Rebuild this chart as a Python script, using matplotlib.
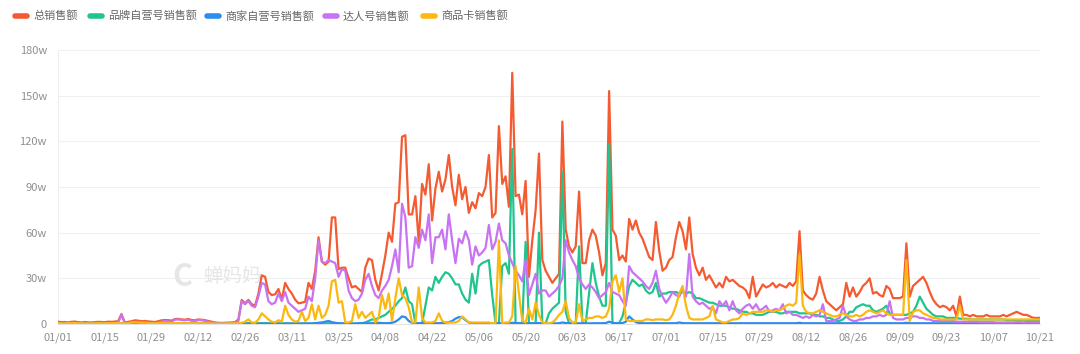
import matplotlib
matplotlib.use("Agg")
import matplotlib.pyplot as plt
from matplotlib.lines import Line2D

plt.rcParams['font.family'] = ['Noto Sans CJK SC', 'DejaVu Sans']

# ---------------- data (unit: 万 / w), daily 2024-01-01 .. 2024-10-21 ----------------
x_labels = ["01/01", "01/15", "01/29", "02/12", "02/26", "03/11", "03/25", "04/08",
            "04/22", "05/06", "05/20", "06/03", "06/17", "07/01", "07/15", "07/29",
            "08/12", "08/26", "09/09", "09/23", "10/07", "10/21"]
y_ticks = [0, 30, 60, 90, 120, 150, 180]
y_labels = ["0", "30w", "60w", "90w", "120w", "150w", "180w"]

series_names = ["总销售额", "品牌自营号销售额", "商家自营号销售额", "达人号销售额", "商品卡销售额"]

total = [
    1.5, 1.2, 1.3, 1.0, 1.4, 1.6, 1.2, 1.0, 1.3, 1.1, 1.0, 1.2, 1.4, 1.3,
    1.2, 1.5, 1.4, 1.6, 1.8, 6.5, 1.0, 1.4, 1.8, 2.4, 2.2, 1.8, 2.0, 1.7,
    1.5, 1.3, 1.8, 2.4, 2.6, 2.5, 2.2, 3.2, 3.4, 3.0, 2.8, 3.3, 2.6, 2.4,
    3.0, 2.8, 2.5, 2.0, 1.5, 1.0, 0.8, 0.7, 0.8, 0.9, 1.0, 1.2, 3.0, 15.8,
    13.6, 15.8, 13.0, 12.0, 20.0, 32.0, 31.0, 21.0, 19.0, 19.5, 23.0, 16.0, 27.0, 23.0,
    20.0, 16.0, 13.6, 14.0, 14.7, 27.0, 23.0, 35.0, 57.0, 41.0, 39.0, 41.0, 70.0, 70.0,
    36, 37, 37, 30, 24, 25, 23, 21, 37, 43, 42, 29, 22, 33,
    45, 60, 54, 79, 80, 123, 124, 72, 72, 84, 54, 92, 85, 105,
    68, 89, 100, 87, 95, 111, 90, 78, 98, 82, 90, 73, 80, 76,
    86, 84, 90, 111, 70, 73, 130, 92, 97, 77, 165, 84, 85, 72,
    94, 31, 55, 75, 112, 42, 35, 31, 27, 30, 33, 133, 62, 51,
    47, 51, 87, 40, 40, 55, 62, 58, 47, 32, 40, 153, 62, 58,
    42, 45, 41, 69, 62, 68, 60, 56, 50, 44, 42, 67, 48, 35,
    37, 42, 44, 57, 67, 61, 49, 70, 46, 37, 32, 37, 29, 32,
    28, 24, 27, 24, 31, 28, 29, 27, 25, 24, 22, 17, 31, 18,
    22, 26, 24, 25, 27, 24, 26, 25, 24, 27, 25, 28, 61, 22,
    19, 17, 16, 20, 31, 22, 15, 13, 11, 9, 11, 13, 27, 18,
    24, 18, 21, 25, 27, 30, 20, 21, 19, 18, 25, 23, 17, 17,
    17, 18, 53, 18, 25, 27, 29, 31, 27, 21, 16, 13, 11, 12,
    11, 9, 12, 5, 18, 6, 6, 5, 6, 5, 5, 5, 6, 5,
    5, 5, 5, 6, 5, 6, 7, 8, 7, 6, 6, 5, 4, 4,
    4,
]

brand = [
    0.2, 0.2, 0.3, 0.2, 0.2, 0.3, 0.2, 0.2, 0.2, 0.3, 0.2, 0.2, 0.2, 0.2,
    0.2, 0.2, 0.3, 0.2, 0.2, 0.2, 0.2, 0.3, 0.3, 0.4, 0.3, 0.3, 0.3, 0.2,
    0.2, 0.2, 0.3, 0.3, 0.3, 0.3, 0.2, 0.3, 0.3, 0.3, 0.3, 0.3, 0.2, 0.2,
    0.2, 0.2, 0.2, 0.2, 0.2, 0.2, 0.2, 0.2, 0.2, 0.2, 0.2, 0.2, 0.3, 0.4,
    0.4, 0.5, 0.4, 0.3, 0.4, 0.5, 0.5, 0.4, 0.3, 0.3, 0.4, 0.3, 0.4, 0.3,
    0.3, 0.3, 0.3, 0.3, 0.3, 0.4, 0.3, 0.4, 0.5, 0.4, 0.4, 0.5, 0.5, 0.4,
    0.3, 0.3, 0.3, 0.3, 0.3, 0.3, 0.5, 0.5, 1, 2, 3, 3, 4, 5,
    6, 8, 10, 12, 15, 17, 24, 15, 13, 0.5, 0.3, 0.5, 12, 24,
    22, 31, 27, 31, 34, 33, 30, 26, 26, 20, 16, 14, 33, 20,
    38, 40, 41, 42, 19, 0.5, 0.5, 38, 40, 33, 115, 0.5, 0.5, 0.5,
    54, 0.5, 0.5, 0.5, 60, 0.5, 0.5, 7, 10, 12, 14, 100, 8, 0.5,
    0.5, 0.5, 51, 0.5, 0.5, 20, 40, 27, 18, 12, 12, 118, 0.5, 0.5,
    0.5, 5, 14, 25, 29, 27, 25, 26, 22, 20, 21, 27, 18, 20,
    20, 21, 21, 21, 20, 21, 20, 21, 20, 17, 17, 16, 15, 14,
    14, 13, 12, 12, 12, 11, 10, 10, 9, 8, 8, 7, 7, 6,
    6, 6, 7, 8, 8, 8, 7, 7, 8, 8, 8, 8, 7, 7,
    7, 7, 6, 6, 5, 5, 4, 4, 3, 2, 2, 3, 5, 8,
    8, 11, 12, 13, 12, 12, 9, 8, 9, 10, 12, 7, 6, 6,
    6, 6, 6, 7, 8, 12, 18, 14, 10, 8, 6, 5, 5, 5,
    4, 4, 4, 4, 3.5, 3.5, 3.5, 3, 3, 3, 3, 3, 3, 3,
    3, 3, 3, 3, 2.5, 2.5, 2.5, 2.5, 2.5, 2.5, 2, 2, 2, 2,
    2,
]

merchant = [
    0.3, 0.3, 0.3, 0.3, 0.3, 0.3, 0.3, 0.3, 0.3, 0.3, 0.3, 0.3, 0.3, 0.3,
    0.3, 0.3, 0.3, 0.3, 0.3, 0.3, 0.3, 0.3, 0.3, 0.3, 0.3, 0.3, 0.3, 0.3,
    0.3, 0.3, 0.3, 0.3, 0.3, 0.3, 0.3, 0.3, 0.3, 0.3, 0.3, 0.3, 0.3, 0.3,
    0.3, 0.3, 0.3, 0.3, 0.3, 0.3, 0.3, 0.3, 0.3, 0.3, 0.3, 0.3, 0.3, 0.3,
    0.3, 0.3, 0.3, 0.3, 0.3, 0.3, 0.3, 0.3, 0.3, 0.3, 0.3, 0.3, 0.3, 0.3,
    0.3, 0.3, 0.3, 0.3, 0.3, 0.3, 0.3, 0.5, 0.8, 1.0, 1.5, 2.0, 1.2, 0.8,
    0.5, 0.4, 0.3, 0.3, 0.3, 0.3, 0.4, 0.5, 0.6, 0.5, 0.5, 0.6, 0.8, 0.6,
    0.5, 0.6, 0.8, 1.5, 3.0, 5.0, 4.5, 2.0, 0.8, 0.5, 0.5, 0.5, 0.5, 0.6,
    0.5, 0.5, 0.5, 0.6, 0.8, 1.2, 2.0, 3.5, 4.5, 4.5, 2.5, 1.0, 0.6, 0.5,
    0.5, 0.5, 0.5, 0.5, 0.4, 0.4, 0.5, 0.5, 0.5, 0.5, 0.8, 0.6, 0.5, 0.5,
    0.6, 0.5, 0.5, 0.5, 0.6, 0.5, 0.4, 0.4, 0.4, 0.4, 0.5, 1.0, 0.6, 0.5,
    0.4, 0.4, 0.5, 0.4, 0.4, 0.4, 0.5, 0.5, 0.5, 0.5, 0.6, 1.5, 0.8, 0.5,
    0.5, 0.6, 1.5, 5.0, 3.0, 1.2, 0.6, 0.5, 0.5, 0.5, 0.5, 0.6, 0.5, 0.5,
    0.5, 0.5, 0.5, 0.5, 1.0, 0.6, 0.5, 0.5, 0.5, 0.5, 0.5, 0.5, 0.5, 0.5,
    0.5, 0.5, 0.5, 0.5, 0.5, 0.5, 0.5, 0.5, 0.5, 0.5, 0.5, 0.5, 0.5, 0.5,
    0.5, 0.5, 0.5, 0.5, 0.5, 0.5, 0.5, 0.5, 0.5, 0.5, 0.5, 0.5, 0.8, 0.5,
    0.5, 0.5, 0.5, 0.5, 0.5, 0.5, 0.5, 0.5, 0.5, 0.5, 0.5, 0.5, 0.5, 0.5,
    0.5, 0.5, 0.5, 0.5, 0.5, 0.5, 0.5, 0.5, 0.5, 0.5, 0.5, 0.5, 0.5, 0.5,
    0.5, 0.5, 0.8, 0.5, 0.5, 0.5, 0.5, 0.5, 0.5, 0.5, 0.5, 0.5, 0.5, 0.5,
    0.5, 0.5, 0.5, 0.5, 0.5, 0.5, 0.5, 0.5, 0.5, 0.5, 0.4, 0.4, 0.4, 0.4,
    0.4, 0.4, 0.4, 0.4, 0.4, 0.4, 0.4, 0.4, 0.4, 0.4, 0.4, 0.4, 0.4, 0.4,
    0.4,
]

talent = [
    0.5, 0.4, 0.5, 0.3, 0.5, 0.6, 0.4, 0.3, 0.5, 0.4, 0.3, 0.4, 0.5, 0.5,
    0.4, 0.5, 0.5, 0.6, 0.8, 6.0, 0.4, 0.5, 0.7, 1.0, 0.9, 0.8, 0.9, 0.7,
    0.6, 0.5, 0.8, 1.5, 2.0, 1.8, 1.5, 2.8, 3.0, 2.6, 2.4, 2.8, 2.0, 1.8,
    2.6, 2.5, 2.0, 1.5, 1.0, 0.5, 0.4, 0.3, 0.4, 0.4, 0.5, 0.6, 2.0, 15.0,
    13, 15, 12, 11, 18, 27, 26, 15, 13, 14, 20, 15, 21, 14,
    12, 10, 8, 9, 10, 18, 15, 30, 55, 41, 40, 42, 41, 40,
    31, 36, 35, 22, 17, 15, 16, 20, 29, 33, 25, 19, 17, 22,
    25, 29, 38, 49, 34, 79, 70, 37, 38, 57, 50, 62, 55, 72,
    40, 57, 57, 62, 49, 72, 55, 40, 56, 53, 61, 55, 39, 51,
    45, 47, 50, 65, 49, 54, 66, 55, 53, 45, 40, 35, 32, 28,
    42, 19, 26, 33, 20, 22, 22, 18, 20, 22, 25, 30, 55, 47,
    42, 38, 30, 26, 23, 26, 24, 21, 17, 19, 21, 27, 21, 20,
    19, 15, 12, 38, 34, 32, 30, 28, 25, 23, 27, 35, 23, 18,
    14, 17, 21, 19, 18, 23, 18, 46, 18, 15, 13, 14, 12, 10,
    11, 7, 15, 12, 15, 9, 15, 9, 7, 10, 12, 13, 10, 13,
    9, 10, 12, 8, 9, 10, 9, 13, 7, 8, 6, 6, 5, 4,
    5, 4, 6, 5, 6, 13, 2, 2, 2, 3, 4, 12, 5, 3,
    2, 2, 3, 3, 4, 4, 5, 5, 6, 5, 6, 15, 4, 3,
    3, 3, 4, 4, 5, 5, 4, 4, 3, 3, 2, 2, 2, 2,
    2, 2, 2, 1.5, 1.5, 1.5, 1.5, 1.5, 1.5, 1.5, 1.2, 1.2, 1.2, 1.2,
    1.2, 1, 1, 1, 1, 1, 1, 1.2, 1.2, 1, 1, 1, 1, 1,
    1,
]

card = [
    0.6, 0.5, 0.4, 0.5, 0.6, 0.7, 0.5, 0.4, 0.5, 0.4, 0.4, 0.5, 0.6, 0.5,
    0.5, 0.6, 0.5, 0.6, 0.7, 0.5, 0.4, 0.6, 1.0, 1.2, 1.0, 0.8, 0.9, 0.7,
    0.5, 0.5, 0.6, 0.7, 0.8, 0.6, 0.5, 0.6, 0.7, 0.6, 0.5, 0.6, 0.5, 0.5,
    0.5, 0.5, 0.5, 0.4, 0.4, 0.3, 0.3, 0.3, 0.3, 0.4, 0.4, 0.5, 0.5, 0.8,
    1.5, 3, 1, 0.8, 3, 7, 5, 3, 1.5, 1, 2.5, 1.5, 12, 6,
    3, 1.5, 2, 8, 2, 4, 13, 3, 12, 4, 6, 12, 28, 29,
    14, 15, 1, 1, 2, 13, 4, 8, 4, 6, 8, 1, 4, 19,
    10, 20, 2, 17, 30, 19, 17, 11, 1, 1, 24, 4, 1, 1,
    1, 2, 7, 2, 1, 1, 1, 1, 2, 5, 3, 1, 1, 1,
    1, 1, 1, 1, 0.5, 0.5, 55, 0.5, 1, 1, 5, 38, 20, 2,
    1, 10, 3, 14, 6, 1, 0.5, 0.5, 1, 3, 6, 8, 15, 4,
    1, 1, 13, 2, 3, 4, 4, 5, 5, 4, 5, 10, 28, 32,
    21, 30, 3, 2, 2, 2, 2, 2, 3, 3, 2.5, 3, 3, 3,
    2.5, 3, 6, 12, 20, 25, 12, 4, 3, 3, 3, 3, 4, 5,
    12, 3, 2, 1, 1, 2, 3, 3, 4, 7, 6, 7, 8, 8,
    8, 8, 9, 9, 8, 9, 9, 10, 12, 13, 12, 14, 46, 12,
    8, 7, 7, 8, 9, 8, 7, 6, 5, 5, 6, 7, 6, 5,
    5, 6, 5, 6, 8, 9, 8, 7, 8, 9, 7, 6, 6, 6,
    6, 6, 42, 2, 8, 9, 9, 7, 6, 5, 4, 4, 3, 3,
    3, 3, 3, 3, 12, 3, 3, 3, 3, 3, 3, 3, 3, 3,
    3, 3, 3, 3, 3, 3, 3, 3, 3, 3, 3, 3, 3, 3,
    3,
]

colors = ["#F45B31", "#1FC58D", "#2A8CF0", "#C873F2", "#FBB80F"]

# ---------------- figure ----------------
W, H = 1080, 354
fig = plt.figure(figsize=(W / 100, H / 100), dpi=100)
fig.patch.set_facecolor("white")

def fx(px):
    return px / W

def fy(py):
    return 1 - py / H

ax = fig.add_axes([fx(58), fy(324), fx(1040) - fx(58), fy(50) - fy(324)])

days = list(range(len(total)))
all_series = [total, brand, merchant, talent, card]
for vals, c in zip(all_series, colors):
    ax.plot(days, vals, color=c, lw=1.6, solid_joinstyle="round", solid_capstyle="round", zorder=3)

ax.set_xlim(0, len(total) - 1)
ax.set_ylim(0, 180)
ax.set_yticks(y_ticks)
ax.set_yticklabels(y_labels)
ax.set_xticks(list(range(0, len(total), 14)))
ax.set_xticklabels(x_labels)
ax.tick_params(axis="both", length=0, colors="#8f8f8f", labelsize=8)
ax.tick_params(axis="y", pad=8)
ax.tick_params(axis="x", pad=6)
ax.grid(axis="y", color="#f0f0f0", lw=0.8, zorder=0)
for s in ["top", "right"]:
    ax.spines[s].set_visible(False)
ax.spines["left"].set_color("#eeeeee")
ax.spines["left"].set_linewidth(0.8)
ax.spines["bottom"].set_color("#e3e3e3")
ax.spines["bottom"].set_linewidth(0.8)

# watermark
fig.text(fx(203), fy(276), "蝉妈妈", color="#e6e6e6", fontsize=14, va="center", ha="left", zorder=1)
fig.text(fx(172), fy(277), "C", color="#e6e6e6", fontsize=22, fontweight="bold",
         va="center", ha="left", style="italic", zorder=1)

# legend (manual)
leg_y = 16
marker_x = [15, 90, 207, 325, 423]
for mx, name, c in zip(marker_x, series_names, colors):
    fig.add_artist(Line2D([fx(mx), fx(mx + 12)], [fy(leg_y), fy(leg_y)], color=c, lw=4,
                          solid_capstyle="round", transform=fig.transFigure))
    fig.text(fx(mx + 18), fy(leg_y), name, color="#666666", fontsize=8, va="center", ha="left")

fig.savefig("out.png", dpi=100, facecolor="white")
